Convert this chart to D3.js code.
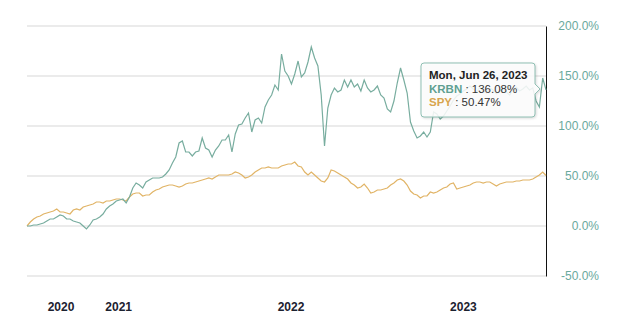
<!DOCTYPE html>
<html>
<head>
<meta charset="utf-8">
<script src="https://cdn.jsdelivr.net/npm/d3@7"></script>
<style>
  body { margin: 0; background: #fff; }
  svg { display: block; font-family: "Liberation Sans", Arial, sans-serif; }
</style>
</head>
<body>
<div id="chart"></div>
<script>
"use strict";
// weekly closes (Mondays) from Jun 22 2020 to Jun 26 2023, % change since start
const startDate = new Date(2020, 5, 22);
const endDate = new Date(2023, 5, 26);

const krbn = [0,0,1,1,2,3,5,7,7,9,11,10,7,7,5,4,3,0,-3,1,6,7,9,12,17,20,22,25,26,27,
  23,29,38,43,41,38,44,46,48,48,48,49,52,56,63,69,83,85,74,74,70,74,75,88,78,76,69,76,80,86,
  86,91,74,92,101,102,108,113,94,106,108,103,119,126,131,141,136,172,155,150,142,152,165,149,153,164,179,168,160,131,
  80,118,131,138,134,136,146,139,146,139,142,135,146,138,134,136,140,131,128,117,114,125,143,158,146,133,104,95,88,90,
  94,89,94,114,112,107,110,115,120,126,130,132,135,137,140,137,134,139,135,133,138,136,132,135,138,134,131,136,139,135,
  137,140,136,138,125,119,148,136.08];

const spy = [0,4,7,9,10,12,13,14,15,17,14,14,13,12,16,17,16,19,20,21,22,24,24,23,25,25,26,27,27,26,
  25,29,32,33,33,30,31,31,34,36,37,39,40,41,41,40,39,40,42,43,43,44,45,46,47,48,47,49,51,51,
  51,51,52,54,53,51,48,49,51,54,56,58,58,59,58,58,58,60,61,62,62,64,60,59,54,51,54,51,48,45,
  44,48,56,55,53,51,49,47,43,41,38,39,42,38,33,34,36,36,37,38,41,43,46,47,45,41,35,32,31,28,
  30,30,34,33,34,36,38,39,42,43,37,38,39,40,41,43,44,44,43,44,44,42,40,42,43,44,44,44,45,45,
  46,46,46,47,49,51,54,50.47];

const yTicks = [-50, 0, 50, 100, 150, 200];
const xTickDates = [new Date(2020, 8, 1), new Date(2021, 0, 1), new Date(2022, 0, 1), new Date(2023, 0, 1)];
const xTickLabels = ['2020', '2021', '2022', '2023'];

const tipTitle = 'Mon, Jun 26, 2023';
const tipRows = [
  {name: 'KRBN', value: '136.08%', color: '#5f9f91'},
  {name: 'SPY', value: '50.47%', color: '#d8a54e'}
];

const W = 617, H = 319;
const plotLeft = 27, plotRight = 546, plotTop = 26, plotBottom = 276;

const dates = d3.timeMonday.range(startDate, d3.timeDay.offset(endDate, 1));

const x = d3.scaleTime().domain([startDate, endDate]).range([plotLeft, plotRight]);
const y = d3.scaleLinear().domain([-50, 200]).range([plotBottom, plotTop]);

const svg = d3.select('#chart').append('svg')
  .attr('width', W)
  .attr('height', H);

// gridlines
svg.append('g')
  .selectAll('line')
  .data(yTicks)
  .enter()
  .append('line')
  .attr('x1', plotLeft)
  .attr('x2', plotRight)
  .attr('y1', d => y(d))
  .attr('y2', d => y(d))
  .attr('stroke', '#e4e4e4')
  .attr('stroke-width', 1.5);

// right axis
const yAxis = d3.axisRight(y)
  .tickValues(yTicks)
  .tickSize(0)
  .tickPadding(0)
  .tickFormat(d => d.toFixed(1) + '%');

const ya = svg.append('g')
  .attr('transform', `translate(${plotRight},0)`)
  .call(yAxis);
ya.select('.domain').attr('stroke', '#111').attr('stroke-width', 1);
ya.selectAll('text')
  .attr('x', 53)
  .attr('text-anchor', 'end')
  .attr('fill', '#6aa99d')
  .style('font-size', '12px');

// bottom axis labels
const xAxis = d3.axisBottom(x)
  .tickValues(xTickDates)
  .tickSize(0)
  .tickPadding(0)
  .tickFormat((d, i) => xTickLabels[i]);

const xa = svg.append('g')
  .attr('transform', `translate(0,${plotBottom})`)
  .call(xAxis);
xa.select('.domain').remove();
xa.selectAll('text')
  .attr('y', 26)
  .attr('fill', '#1c2230')
  .style('font-size', '12px')
  .style('font-weight', 'bold');

// lines
const line = d3.line()
  .x((d, i) => x(dates[i]))
  .y(d => y(d));

svg.append('path')
  .datum(spy)
  .attr('fill', 'none')
  .attr('stroke', '#e1b466')
  .attr('stroke-width', 1.2)
  .attr('d', line);

svg.append('path')
  .datum(krbn)
  .attr('fill', 'none')
  .attr('stroke', '#78ad9f')
  .attr('stroke-width', 1.2)
  .attr('d', line);

// tooltip
const bx = 421, by = 63, bw = 114, bh = 54;
const tip = svg.append('g');
tip.append('path')
  .attr('d', `M${bx + 3},${by} H${bx + bw - 3} Q${bx + bw},${by} ${bx + bw},${by + 3} V${by + 21} L${bx + bw + 5},${by + 26} L${bx + bw},${by + 31} V${by + bh - 3} Q${bx + bw},${by + bh} ${bx + bw - 3},${by + bh} H${bx + 3} Q${bx},${by + bh} ${bx},${by + bh - 3} V${by + 3} Q${bx},${by} ${bx + 3},${by} Z`)
  .attr('fill', 'rgba(255,255,255,0.86)')
  .attr('stroke', '#8fbfb3')
  .attr('stroke-width', 1)
  .style('filter', 'drop-shadow(1px 1px 1px rgba(0,0,0,0.15))');

tip.append('text')
  .attr('x', bx + 8)
  .attr('y', by + 16)
  .attr('fill', '#222')
  .style('font-size', '11.5px')
  .style('font-weight', 'bold')
  .text(tipTitle);

tipRows.forEach((r, i) => {
  const t = tip.append('text')
    .attr('x', bx + 8)
    .attr('y', by + 30 + i * 13)
    .style('font-size', '11.5px');
  t.append('tspan').attr('fill', r.color).style('font-weight', 'bold').text(r.name);
  t.append('tspan').attr('fill', '#333').text(' : ' + r.value);
});
</script>
</body>
</html>
